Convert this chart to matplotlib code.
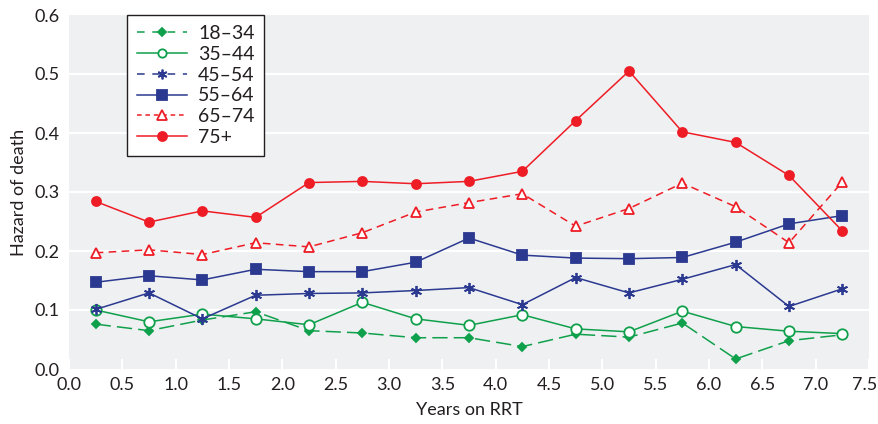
import matplotlib
matplotlib.use("Agg")
import matplotlib.pyplot as plt
import matplotlib.transforms as mtransforms
from matplotlib.lines import Line2D

plt.rcParams['font.family'] = ['Lato', 'DejaVu Sans']

years = [0.25, 0.75, 1.25, 1.75, 2.25, 2.75, 3.25, 3.75, 4.25, 4.75, 5.25, 5.75, 6.25, 6.75, 7.25]

age_18_34 = [0.076, 0.065, 0.083, 0.097, 0.065, 0.061, 0.053, 0.053, 0.038, 0.059, 0.054, 0.078, 0.017, 0.048, 0.058]
age_35_44 = [0.100, 0.080, 0.093, 0.085, 0.075, 0.113, 0.085, 0.074, 0.092, 0.068, 0.063, 0.098, 0.072, 0.064, 0.060]
age_45_54 = [0.101, 0.129, 0.085, 0.125, 0.128, 0.129, 0.133, 0.138, 0.109, 0.155, 0.129, 0.152, 0.177, 0.106, 0.136]
age_55_64 = [0.147, 0.158, 0.151, 0.169, 0.165, 0.165, 0.181, 0.222, 0.193, 0.188, 0.187, 0.189, 0.215, 0.246, 0.260]
age_65_74 = [0.197, 0.202, 0.194, 0.214, 0.207, 0.231, 0.266, 0.282, 0.297, 0.242, 0.272, 0.315, 0.275, 0.214, 0.317]
age_75p   = [0.284, 0.249, 0.268, 0.257, 0.316, 0.318, 0.314, 0.318, 0.335, 0.421, 0.505, 0.402, 0.384, 0.328, 0.234]

labels = ["18\u201334", "35\u201344", "45\u201354", "55\u201364", "65\u201374", "75+"]
x_ticks = [0.0, 0.5, 1.0, 1.5, 2.0, 2.5, 3.0, 3.5, 4.0, 4.5, 5.0, 5.5, 6.0, 6.5, 7.0, 7.5]
y_ticks = [0.0, 0.1, 0.2, 0.3, 0.4, 0.5, 0.6]

GREEN = "#0fa04b"
BLUE = "#2b3990"
RED = "#ee1c25"
TXT = "#231f20"
FS = 13

fig = plt.figure(figsize=(8.79, 4.24), dpi=100)
ax = fig.add_axes([69/879, 1 - 369/424, 800/879, 354/424])
ax.set_facecolor("#eff0f2")
for s in ax.spines.values():
    s.set_visible(False)

for yv in y_ticks[1:-1]:
    ax.axhline(yv, color="white", lw=1.6, zorder=1)

styles = [
    dict(data=age_18_34, color=GREEN, leg_ls=(0, (5, 5)), plot_ls=(0, (10, 4)), marker="D", ms=4.5, lms=4, mfc=GREEN),
    dict(data=age_35_44, color=GREEN, leg_ls="-", plot_ls="-", marker="o", ms=7.5, lms=6, mfc="white"),
    dict(data=age_45_54, color=BLUE, leg_ls=(0, (5, 5)), plot_ls="-", marker=(6, 2, 0), ms=8, lms=7, mfc=BLUE),
    dict(data=age_55_64, color=BLUE, leg_ls="-", plot_ls="-", marker="s", ms=7.5, lms=6.5, mfc=BLUE),
    dict(data=age_65_74, color=RED, leg_ls=(0, (3, 2.5)), plot_ls=(0, (5, 3.5)), marker="^", ms=7.5, lms=6.5, mfc="white"),
    dict(data=age_75p, color=RED, leg_ls="-", plot_ls="-", marker="o", ms=6.5, lms=6.5, mfc=RED),
]

handles = []
for st, lab in zip(styles, labels):
    ax.plot(years, st["data"], color=st["color"], ls=st["plot_ls"], lw=1.1,
            marker=st["marker"], ms=st["ms"], mfc=st["mfc"], mec=st["color"],
            mew=1.3, zorder=3)
    handles.append(Line2D([], [], color=st["color"], ls=st["leg_ls"], lw=1.1,
                          marker=st["marker"], ms=st["lms"], mfc=st["mfc"],
                          mec=st["color"], mew=1.3))

ax.set_xlim(0, 7.5)
ax.set_ylim(0, 0.6)
ax.set_xticks(x_ticks)
ax.set_xticklabels([f"{v:.1f}" for v in x_ticks])
ax.set_yticks(y_ticks)
ax.set_yticklabels([f"{v:.1f}" for v in y_ticks])
ax.tick_params(axis="x", direction="in", length=7, width=1.5, color="white",
               labelsize=FS, pad=6, labelcolor=TXT)
ax.tick_params(axis="y", length=0, labelsize=FS, pad=7, labelcolor=TXT)
ax.xaxis.set_zorder(4)

# nudge the last x tick label slightly left so it stays inside the figure
last = ax.get_xticklabels()[-1]
last.set_transform(last.get_transform() + mtransforms.ScaledTranslation(-4/100, 0, fig.dpi_scale_trans))

ax.set_xlabel("Years on RRT", fontsize=FS, color=TXT, labelpad=6)
ax.set_ylabel("Hazard of death", fontsize=FS, color=TXT, labelpad=5)

leg = ax.legend(handles, labels, loc="upper left", bbox_to_anchor=(58/800, 1.0),
                frameon=True, fancybox=False, edgecolor=TXT, framealpha=1,
                fontsize=14, handlelength=2.6, handletextpad=0.55,
                labelspacing=0.2, borderpad=0.5, borderaxespad=0)
leg.get_frame().set_linewidth(1.0)
for t in leg.get_texts():
    t.set_color(TXT)

fig.savefig("out.png", dpi=100)
